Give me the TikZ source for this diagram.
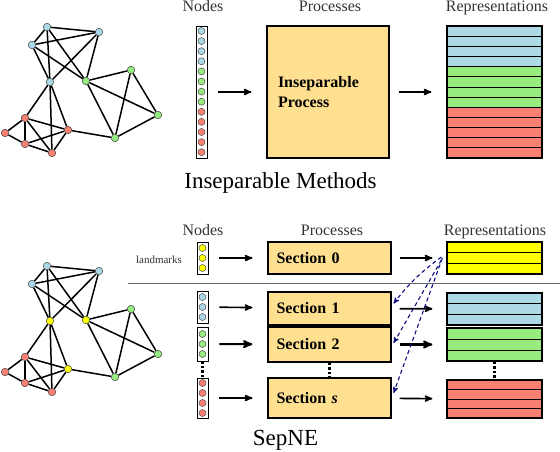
\documentclass[tikz,border=0pt]{standalone}
\usepackage{fontspec}
\setmainfont{Liberation Serif}
\usetikzlibrary{arrows, positioning}

\definecolor{nblue}{RGB}{173,216,230}
\definecolor{ngreen}{RGB}{150,236,126}
\definecolor{nred}{RGB}{250,128,114}
\definecolor{nyellow}{RGB}{255,255,0}
\definecolor{procfill}{RGB}{254,224,144}
\definecolor{lmkblue}{RGB}{16,16,128}

% the example network, #1 prefix, #2 shift, #3 #4 #5 colours of the hubs
\newcommand{\drawnet}[5]{
\begin{scope}[yshift=#2]
\node[vtx,fill=nblue] (#1b1) at (47,27) {};
\node[vtx,fill=nblue] (#1b2) at (99,32) {};
\node[vtx,fill=nblue] (#1b3) at (32,45) {};
\node[vtx,fill=#3] (#1b4) at (50,82) {};
\node[vtx,fill=#4] (#1g1) at (86,81) {};
\node[vtx,fill=ngreen] (#1g2) at (131,70) {};
\node[vtx,fill=ngreen] (#1g3) at (158,115) {};
\node[vtx,fill=ngreen] (#1g4) at (115,138) {};
\node[vtx,fill=nred] (#1r1) at (25,118) {};
\node[vtx,fill=nred] (#1r2) at (5,133) {};
\node[vtx,fill=nred] (#1r3) at (25,144) {};
\node[vtx,fill=nred] (#1r4) at (52,153) {};
\node[vtx,fill=#5] (#1r5) at (68,130) {};
\foreach \a/\b in {b1/b2,b1/b3,b1/b4,b1/g1,b3/b2,b3/b4,b3/g1,b2/b4,b2/g1,
  g1/g2,g1/g3,g1/g4,g2/g4,g2/g3,g3/g4,b4/r1,b4/r4,b4/r5,
  r1/r2,r1/r3,r1/r5,r1/r4,r2/r3,r3/r5,r3/r4,r5/r4,r5/g4}
  \draw[netedge] (#1\a) -- (#1\b);
\end{scope}
}

\begin{document}
\begin{tikzpicture}[x=1pt, y=-1pt, >=stealth',
vtx/.style={circle, draw=black!75, line width=0.5pt, inner sep=0pt, minimum size=7.5pt},
netedge/.style={line width=1.5pt},
dotn/.style={circle, draw=black!70, line width=0.5pt, inner sep=0pt, minimum size=7pt},
colbox/.style={draw, line width=0.9pt, inner sep=0pt, minimum width=11pt},
procbox/.style={draw, line width=1.2pt, fill=procfill, inner sep=0pt, minimum width=123pt,
  font=\fontsize{16}{19.5}\selectfont\bfseries},
repbox/.style={draw, line width=1.2pt, inner sep=0pt, minimum width=95pt},
flow/.style={->, line width=1.6pt},
lmkarrow/.style={->, lmkblue, line width=1.1pt, dash pattern=on 4pt off 3pt},
vdots/.style={line width=2.2pt, dash pattern=on 2.5pt off 2pt},
head/.style={font=\fontsize{16}{18}\selectfont, anchor=base, text=black!80},
title/.style={font=\fontsize{23}{26}\selectfont, anchor=base}]
\useasboundingbox (0,0) rectangle (560,452);

% ---------- inseparable methods ----------
\drawnet{t}{0pt}{nblue}{ngreen}{nred}

\node[head] (tnh) at (203,12) {Nodes};
\node[head] (tph) at (330,12) {Processes};
\node[head] (trh) at (497,12) {Representations};

\node[colbox, minimum height=132pt] (tcol) at (201.5,92) {};
\foreach \c [count=\i from 0] in {nblue,nblue,nblue,nblue,ngreen,ngreen,ngreen,ngreen,nred,nred,nred,nred,nred}
  \node[dotn, fill=\c] (tc\i) at (201.5,31+10.1*\i) {};

\node[procbox, minimum height=132pt, minimum width=122pt, text width=100pt, align=left] (tproc) at (328,92)
  {Inseparable\\Process};

\foreach \c [count=\i from 0] in {nblue,nblue,nblue,nblue,ngreen,ngreen,ngreen,ngreen,nred,nred,nred,nred,nred}
  \draw[fill=\c, line width=0.8pt] (447,26+10.154*\i) rectangle +(95,10.154);
\node[repbox, minimum height=132pt] (trep) at (494.5,92) {};

\draw[flow, shorten <=11pt, shorten >=15pt] (tcol) -- (tproc);
\draw[flow, shorten <=9pt, shorten >=15pt] (tproc) -- (trep);

\node[title] (ttitle) at (280.5,188) {Inseparable Methods};

% ---------- SepNE ----------
\drawnet{s}{-239pt}{nyellow}{nyellow}{nyellow}

\node[head] (snh) at (203,235) {Nodes};
\node[head] (sph) at (332,235) {Processes};
\node[head] (srh) at (495,235) {Representations};
\node[font=\fontsize{11}{13}\selectfont, anchor=base, text=black!80] (lmk) at (159,263) {landmarks};

\draw[black!60, line width=0.9pt] (128,283) -- (560,283);

% node columns
\node[colbox, minimum height=32pt] (scol0) at (202.5,258) {};
\foreach \i in {0,1,2} \node[dotn, fill=nyellow] (s0c\i) at (202.5,248+10*\i) {};
\node[colbox, minimum height=32pt] (scol1) at (202.5,307) {};
\foreach \i in {0,1,2} \node[dotn, fill=nblue] (s1c\i) at (202.5,297+10*\i) {};
\node[colbox, minimum height=34pt] (scol2) at (202.5,344) {};
\foreach \i in {0,1,2} \node[dotn, fill=ngreen] (s2c\i) at (202.5,334+10*\i) {};
\node[colbox, minimum height=40pt] (scol3) at (202.5,398) {};
\foreach \i in {0,...,3} \node[dotn, fill=nred] (s3c\i) at (202.5,383+10*\i) {};

% sections
\node[procbox, minimum height=32pt, text width=106pt, align=left] (sec0) at (329.5,258) {Section 0};
\node[procbox, minimum height=33pt, text width=106pt, align=left] (sec1) at (329.5,308.5) {Section 1};
\node[procbox, minimum height=35pt, text width=106pt, align=left] (sec2) at (329.5,344.5) {Section 2};
\node[procbox, minimum height=40pt, text width=106pt, align=left] (secs) at (329.5,398) {Section \textit{s}};

% representations
\foreach \i in {0,1,2} \draw[fill=nyellow, line width=0.8pt] (447,242+10.67*\i) rectangle +(95,10.67);
\node[repbox, minimum height=32pt] (rep0) at (494.5,258) {};
\foreach \i in {0,1,2} \draw[fill=nblue, line width=0.8pt] (447,293+10.67*\i) rectangle +(95,10.67);
\node[repbox, minimum height=32pt] (rep1) at (494.5,309) {};
\foreach \i in {0,1,2} \draw[fill=ngreen, line width=0.8pt] (447,328+11*\i) rectangle +(95,11);
\node[repbox, minimum height=33pt] (rep2) at (494.5,344.5) {};
\foreach \i in {0,...,3} \draw[fill=nred, line width=0.8pt] (447,380+9.5*\i) rectangle +(95,9.5);
\node[repbox, minimum height=38pt] (reps) at (494.5,399) {};

% flows
\draw[flow, shorten <=11pt, shorten >=15pt] (scol0) -- (sec0);
\draw[flow, shorten <=11pt, shorten >=15pt] (scol1) -- (sec1);
\draw[flow, line width=2.1pt, shorten <=11pt, shorten >=15pt] (scol2) -- (sec2);
\draw[flow, shorten <=11pt, shorten >=15pt] (scol3) -- (secs);
\draw[flow, shorten <=8pt, shorten >=14pt] (sec0) -- (rep0);
\draw[flow, shorten <=8pt, shorten >=14pt] (sec1) -- (rep1);
\draw[flow, line width=2.1pt, shorten <=8pt, shorten >=14pt] (sec2) -- (rep2);
\draw[flow, shorten <=8pt, shorten >=14pt] (secs) -- (reps);

% vertical dots
\draw[vdots] (scol2) -- (scol3);
\draw[vdots] (sec2) -- (secs);
\draw[vdots] (rep2) -- (reps);

% landmark representations handed to every section
\coordinate (lmk0) at ([xshift=-5pt,yshift=1pt]rep0.west);
\draw[lmkarrow] (lmk0) to[bend right=8] ([xshift=2pt,yshift=5pt]sec1.east);
\draw[lmkarrow] ([yshift=-3pt]lmk0) -- ([xshift=2pt,yshift=1.5pt]sec2.east);
\draw[lmkarrow] ([xshift=1pt,yshift=-1pt]lmk0) -- ([xshift=2pt,yshift=5pt]secs.east);

\node[title] (stitle) at (285.5,445) {SepNE};
\end{tikzpicture}
\end{document}
